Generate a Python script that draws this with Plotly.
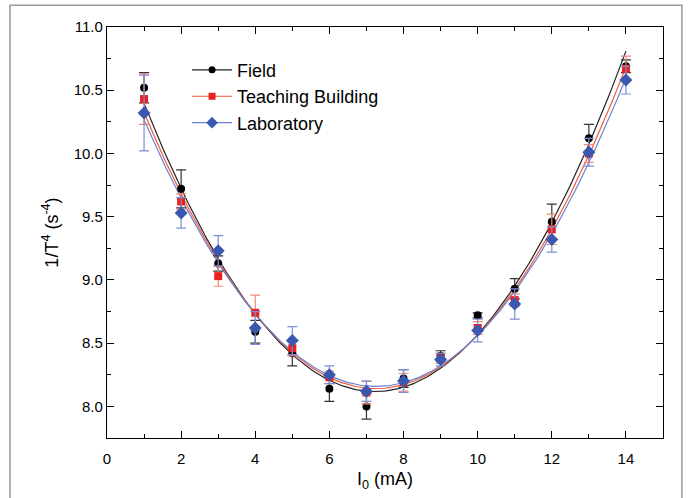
import numpy as np
import plotly.graph_objects as go

current = [1, 2, 3, 4, 5, 6, 7, 8, 9, 10, 11, 12, 13, 14]

field = [10.52, 9.72, 9.13, 8.59, 8.42, 8.14, 8.00, 8.22, 8.40, 8.72, 8.93, 9.46, 10.12, 10.69]
field_err = [0.12, 0.15, 0.06, 0.09, 0.10, 0.10, 0.10, 0.07, 0.04, 0.02, 0.08, 0.14, 0.11, 0.05]

teaching = [10.43, 9.62, 9.03, 8.74, 8.46, 8.23, 8.11, 8.19, 8.38, 8.62, 8.84, 9.40, 10.00, 10.67]
teaching_err = [0.20, 0.06, 0.08, 0.14, 0.06, 0.05, 0.09, 0.07, 0.04, 0.05, 0.05, 0.12, 0.07, 0.10]

laboratory = [10.32, 9.53, 9.23, 8.62, 8.52, 8.25, 8.12, 8.20, 8.37, 8.60, 8.81, 9.32, 10.01, 10.58]
laboratory_err = [0.30, 0.12, 0.12, 0.13, 0.11, 0.07, 0.08, 0.09, 0.05, 0.09, 0.12, 0.10, 0.11, 0.11]

series = [
    ("Field", field, field_err, "#000000", "#222222", "#333333", "circle", 8),
    ("Teaching Building", teaching, teaching_err, "#e8221e", "#f05a3c", "#f08a78", "square", 8),
    ("Laboratory", laboratory, laboratory_err, "#3a58b0", "#6a80d4", "#7d8fd6", "diamond", 10),
]

FONT = "Liberation Sans, Arial, sans-serif"

fig = go.Figure()
xfit = np.linspace(min(current), max(current), 200)
for name, y, err, mcol, lcol, ecol, sym, size in series:
    coef = np.polyfit(current, y, 2)
    fig.add_trace(go.Scatter(x=xfit, y=np.polyval(coef, xfit), mode="lines",
                             line=dict(color=lcol, width=1.2), showlegend=False, hoverinfo="skip"))
for name, y, err, mcol, lcol, ecol, sym, size in series:
    fig.add_trace(go.Scatter(
        x=current, y=y, mode="markers", showlegend=False,
        marker=dict(color=mcol, symbol=sym, size=size),
        error_y=dict(type="data", array=err, visible=True, color=ecol, thickness=1.2, width=5),
    ))
for name, y, err, mcol, lcol, ecol, sym, size in series:
    fig.add_trace(go.Scatter(x=[None], y=[None], mode="lines+markers", name=name,
                             line=dict(color=lcol, width=1.2),
                             marker=dict(color=mcol, symbol=sym, size=size - 1)))

axis_common = dict(
    showline=True, linecolor="black", linewidth=1.3, mirror="ticks",
    ticks="inside", ticklen=7, tickwidth=1.3, tickcolor="black",
    showgrid=False, zeroline=False,
    tickfont=dict(family=FONT, size=15, color="black"),
)

fig.update_xaxes(range=[0, 15], dtick=2, tick0=0, ticklabelstandoff=7,
                 minor=dict(dtick=1, ticks="inside", ticklen=4, tickwidth=1.3, tickcolor="black"),
                 title=dict(text="I<sub>0</sub> (mA)", font=dict(size=18, family=FONT, color="black"), standoff=6),
                 **axis_common)
fig.update_yaxes(range=[7.75, 11.0], dtick=0.5, tick0=8.0, tickformat=".1f",
                 minor=dict(dtick=0.25, ticks="inside", ticklen=4, tickwidth=1.3, tickcolor="black"),
                 title=dict(text="1/T<sup>4</sup> (s<sup>-4</sup>)", font=dict(size=18, family=FONT, color="black"), standoff=10),
                 **axis_common)

fig.add_shape(type="rect", xref="paper", yref="paper",
              x0=-0.1745, x1=1.034, y0=-0.16, y1=1.053,
              line=dict(color="#9a9a9a", width=1.5), layer="below")

fig.update_layout(
    width=688, height=498,
    margin=dict(l=107, r=25, t=27, b=58),
    plot_bgcolor="white", paper_bgcolor="white",
    font=dict(family=FONT, color="black"),
    legend=dict(x=0.144, y=0.94, xanchor="left", yanchor="top",
                bgcolor="rgba(0,0,0,0)", borderwidth=0,
                font=dict(size=18, family=FONT, color="black"),
                itemwidth=40, tracegroupgap=0),
)

fig.write_html("out.html", config={"displayModeBar": False},
               post_script="document.body.style.margin='0px';document.body.style.padding='0px';")
